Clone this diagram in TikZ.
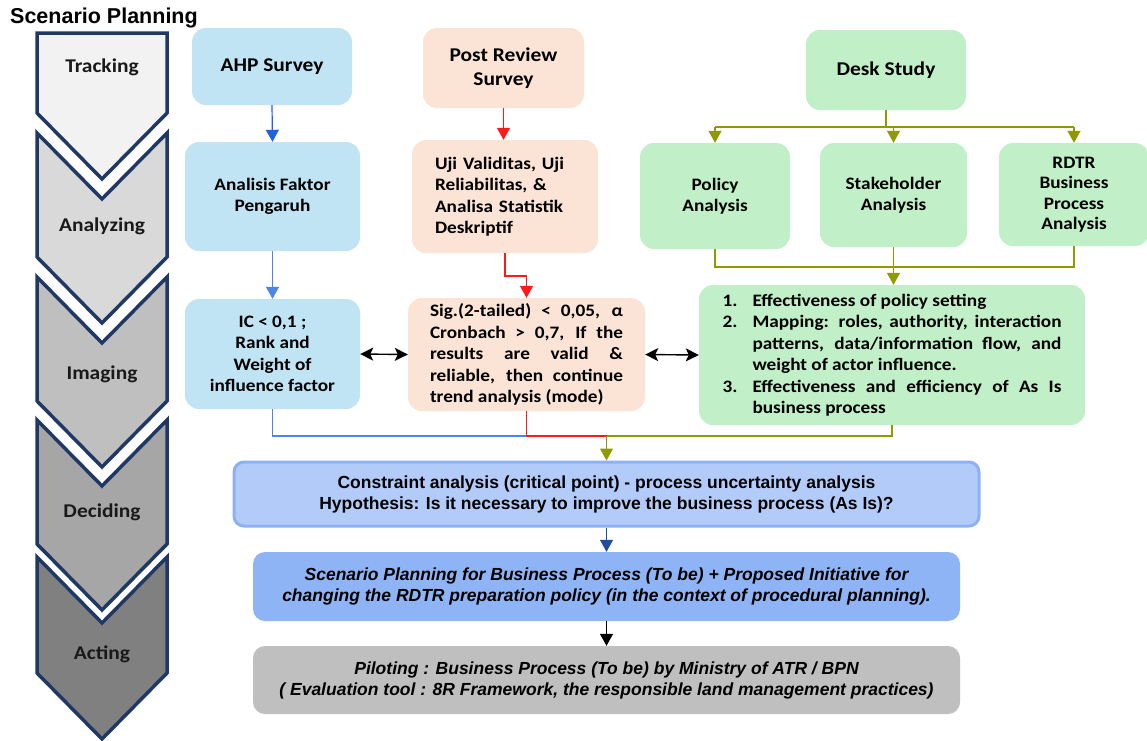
\documentclass[tikz,border=0pt]{standalone}
\usepackage{fontspec}
\setmainfont{Carlito}[FakeStretch=1.1]
\newfontfamily\titlef{Liberation Sans}
\usetikzlibrary{arrows.meta}
\definecolor{navy}{HTML}{1F3864}
\definecolor{lblue}{HTML}{C1E4F5}
\definecolor{peach}{HTML}{FBE3D6}
\definecolor{lgreen}{HTML}{C1F0C8}
\definecolor{cfill}{HTML}{B3CBF8}
\definecolor{cborder}{HTML}{8EB1F3}
\definecolor{sfill}{HTML}{8FB4F5}
\definecolor{gfill}{HTML}{BFBFBF}
\definecolor{ablue}{HTML}{1E63E0}
\definecolor{ablue2}{HTML}{4A86E8}
\definecolor{ared}{HTML}{FF1A1A}
\definecolor{olv}{HTML}{8C9C00}
\definecolor{dblue}{HTML}{1F4EA0}
\definecolor{chA}{HTML}{F2F2F2}
\definecolor{chB}{HTML}{D9D9D9}
\definecolor{chC}{HTML}{BFBFBF}
\definecolor{chD}{HTML}{A6A6A6}
\definecolor{chE}{HTML}{808080}
\newcommand\litem[1]{\hangindent=30pt\hangafter=1\noindent\makebox[30pt][l]{#1}}
\begin{document}
\begin{tikzpicture}[x=1pt,y=-1pt,
  chev/.style={draw=navy, line width=3.5pt, line join=miter},
  chevlab/.style={font=\fontsize{19.5}{23}\selectfont\bfseries, text=black!90},
  box/.style={rounded corners=14pt, inner sep=0pt, align=center, font=\fontsize{17.5}{21.5}\selectfont\bfseries},
  hd/.style={box, font=\fontsize{19.5}{24}\selectfont\bfseries},
  bigbox/.style={inner sep=0pt, align=center, font=\titlef\fontsize{17.5}{21}\selectfont\bfseries},
  conn/.style={line width=1.2pt},
  arr/.style={-{Triangle[width=13pt,length=12pt]}},
  dbl/.style={{Stealth[width=13pt,length=13pt,inset=3pt]}-{Stealth[width=13pt,length=13pt,inset=3pt]}, line width=1.4pt, black},
]
\useasboundingbox (0,0) rectangle (1147,740);
\fill[white] (0,0) rectangle (1147,740);

% title
\node[anchor=west, font=\titlef\fontsize{21.5}{24}\selectfont\bfseries, inner sep=0pt] (title) at (10,18) {Scenario Planning};

% chevrons
\draw[chev, fill=chA] (37,33) -- (167,33) -- (167,113) -- (102,179) -- (37,113) -- cycle;
\draw[chev, fill=chB] (37,133) -- (102,199) -- (167,133) -- (167,257) -- (102,323) -- (37,257) -- cycle;
\draw[chev, fill=chC] (37,277) -- (102,343) -- (167,277) -- (167,401) -- (102,467) -- (37,401) -- cycle;
\draw[chev, fill=chD] (37,420) -- (102,486) -- (167,420) -- (167,544) -- (102,610) -- (37,544) -- cycle;
\draw[chev, fill=chE] (37,557) -- (102,623) -- (167,557) -- (167,673) -- (102,739) -- (37,673) -- cycle;
\node[chevlab] (tracking) at (102,67) {Tracking};
\node[chevlab] (analyzing) at (102,226) {Analyzing};
\node[chevlab] (imaging) at (102,374) {Imaging};
\node[chevlab] (deciding) at (102,512) {Deciding};
\node[chevlab] (acting) at (102,654) {Acting};

% top row
\node[hd, fill=lblue, minimum width=160pt, minimum height=77pt] (ahp) at (272,66.5) {AHP Survey};
\node[hd, fill=peach, minimum width=161pt, minimum height=80pt] (prs) at (503.5,68) {Post Review\\Survey};
\node[hd, fill=lgreen, minimum width=160pt, minimum height=80pt] (desk) at (886,70) {Desk Study};

% second row
\node[box, fill=lblue, minimum width=175pt, minimum height=109pt] (afp) at (272.5,196.5) {Analisis Faktor\\Pengaruh};
\node[box, fill=peach, minimum width=186pt, minimum height=113pt, text width=140pt, align=left] (uji) at (505,196.5) {Uji Validitas, Uji\\Reliabilitas, \&\\Analisa Statistik\\Deskriptif};
\node[box, fill=lgreen, minimum width=150pt, minimum height=106pt] (pol) at (715,196) {Policy\\Analysis};
\node[box, fill=lgreen, minimum width=147pt, minimum height=104pt] (stk) at (893.5,195) {Stakeholder\\Analysis};
\node[box, fill=lgreen, minimum width=150pt, minimum height=103pt, font=\fontsize{17.5}{20.5}\selectfont\bfseries] (rdtr) at (1074,194.5) {RDTR\\Business\\Process\\Analysis};

% third row
\node[box, fill=lblue, minimum width=175pt, minimum height=110pt] (ic) at (272.5,354) {IC < 0,1 ;\\Rank and\\Weight of\\influence factor};
\node[box, fill=peach, minimum width=237pt, minimum height=113pt, text width=193pt, align=justify] (sig) at (526.5,354.5) {Sig.(2-tailed) < 0,05, α\linebreak Cronbach > 0,7, If the\linebreak results are valid \&\linebreak reliable, then continue\linebreak trend analysis (mode)};
\node[box, fill=lgreen, minimum width=386pt, minimum height=140pt, text width=339pt, align=justify] (lst) at (892,355) {\litem{1.}Effectiveness of policy setting\par
\litem{2.}Mapping: roles, authority, interaction\linebreak patterns, data/information flow, and\linebreak weight of actor influence.\par
\litem{3.}Effectiveness and efficiency of As Is\linebreak business process\par};

% bottom boxes
\node[bigbox, fill=cfill, draw=cborder, line width=3pt, rounded corners=10pt, minimum width=745pt, minimum height=64pt] (con) at (606.5,494) {Constraint analysis (critical point) - process uncertainty analysis\\Hypothesis: Is it necessary to improve the business process (As Is)?};
\node[bigbox, fill=sfill, rounded corners=12pt, minimum width=707pt, minimum height=69pt, font=\titlef\fontsize{17.5}{21}\selectfont\bfseries\itshape] (scn) at (606.5,586.5) {Scenario Planning for Business Process (To be) + Proposed Initiative for\\changing the RDTR preparation policy (in the context of procedural planning).};
\node[bigbox, fill=gfill, rounded corners=12pt, minimum width=707pt, minimum height=68pt, font=\titlef\fontsize{17.5}{21}\selectfont\bfseries\itshape] (pil) at (606.5,680) {Piloting : Business Process (To be) by Ministry of ATR / BPN\\( Evaluation tool : 8R Framework, the responsible land management practices)};

% helper coordinates
\coordinate (ds) at (0,127);
\coordinate (db) at (0,267);
\coordinate (rj) at (0,276);
\coordinate (mb) at (0,436);

% connectors
\draw[conn, arr, ablue] (ahp.south) -- (afp.north);
\draw[conn, arr, ablue2] (afp.south) -- (ic.north);
\draw[conn, arr, ared] (prs.south) -- (prs.south |- uji.north);
\draw[conn, arr, ared] (uji.south) -- (uji.south |- rj) -| (sig.north);

\draw[conn, olv] (desk.south) -- (desk.south |- ds);
\draw[conn, olv] (pol.north |- ds) -- (rdtr.north |- ds);
\draw[conn, arr, olv] (pol.north |- ds) -- (pol.north);
\draw[conn, arr, olv] (stk.north |- ds) -- (stk.north);
\draw[conn, arr, olv] (rdtr.north |- ds) -- (rdtr.north);

\draw[conn, olv] (pol.south) -- (pol.south |- db) -- (rdtr.south |- db) -- (rdtr.south);
\draw[conn, arr, olv] (stk.south) -- (stk.south |- lst.north);

\draw[dbl] (ic.east) -- (sig.west);
\draw[dbl] (sig.east) -- (lst.west);

\draw[conn, ablue2] (ic.south) |- (con.north |- mb);
\draw[conn, ared] (sig.south) |- (con.north |- mb);
\draw[conn, olv] (lst.south) |- (con.north |- mb);
\draw[conn, arr, olv] (con.north |- mb) -- (con.north);

\draw[conn, arr, dblue] (con.south) -- (scn.north);
\draw[conn, arr, black] (scn.south) -- (pil.north);
\end{tikzpicture}
\end{document}
